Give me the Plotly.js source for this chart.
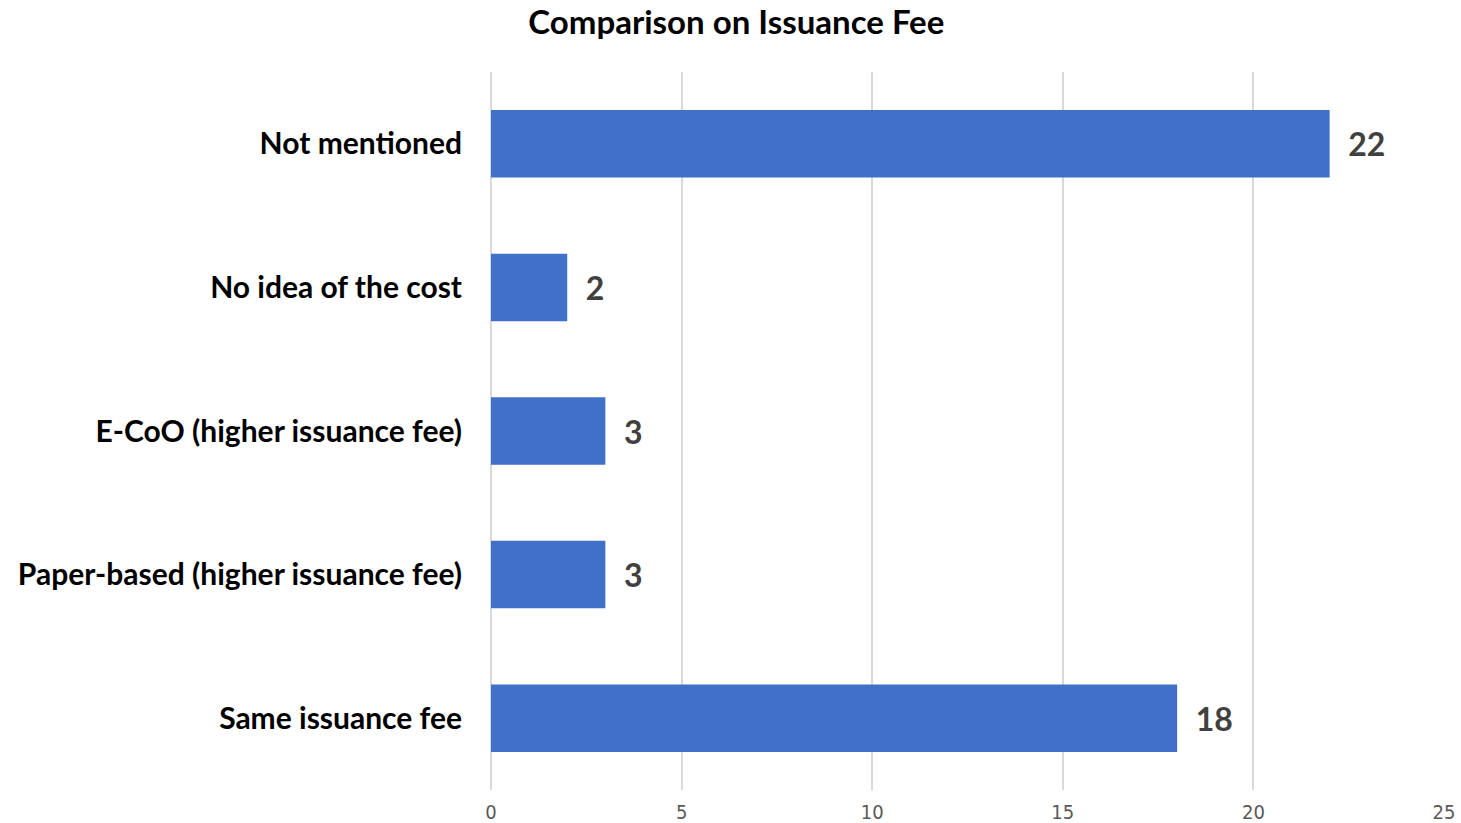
<!DOCTYPE html>
<html>
<head>
<meta charset="utf-8">
<script src="https://cdn.plot.ly/plotly-3.0.1.min.js"></script>
<style>html,body{margin:0;padding:0;background:#fff;}#chart{width:1461px;height:823px;}</style>
</head>
<body>
<div id="chart"></div>
<script>
const categories = ["Not mentioned", "No idea of the cost", "E-CoO (higher issuance fee)", "Paper-based (higher issuance fee)", "Same issuance fee"];
const counts = [22, 2, 3, 3, 18];
const xTicks = [0, 5, 10, 15, 20, 25];
const chartTitle = "Comparison on Issuance Fee";

const trace = {
  type: "bar",
  orientation: "h",
  y: categories,
  x: counts,
  width: 0.47,
  marker: {color: "#4170C9", line: {width: 0}},
  text: counts.map(v => "\u00a0\u00a0" + v),
  textposition: "outside",
  cliponaxis: false,
  textfont: {family: "Lato, 'Open Sans', sans-serif", size: 32, color: "#404040", weight: "bold"},
  hoverinfo: "x+y"
};

const layout = {
  width: 1461, height: 823,
  margin: {l: 491, r: 17, t: 72, b: 33},
  paper_bgcolor: "#fff", plot_bgcolor: "#fff",
  title: {text: "<b>" + chartTitle + "</b>", x: 0.504, xanchor: "center", y: 0.973, yanchor: "middle",
          font: {family: "Lato, 'Open Sans', sans-serif", size: 33, color: "#000"}},
  showlegend: false,
  xaxis: {range: [0, 25], tickvals: xTicks, showgrid: true, gridcolor: "#d9d9d9", gridwidth: 2,
          zeroline: true, zerolinecolor: "#d9d9d9", zerolinewidth: 2, showline: false,
          tickfont: {family: "'Liberation Sans Narrow', 'DejaVu Sans Condensed', sans-serif", size: 20, color: "#595959"},
          ticks: "", ticklabelstandoff: 8},
  yaxis: {type: "category", autorange: "reversed", showgrid: false, zeroline: false, showline: false, ticks: "",
          ticklabelstandoff: 28,
          tickfont: {family: "Lato, 'Open Sans', sans-serif", size: 30, color: "#000", weight: "bold"}}
};

Plotly.newPlot("chart", [trace], layout, {displayModeBar: false, staticPlot: true});
</script>
</body>
</html>
